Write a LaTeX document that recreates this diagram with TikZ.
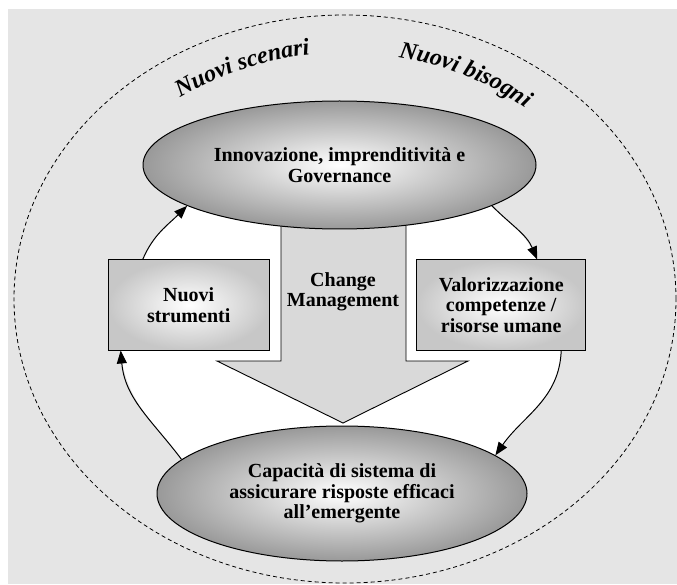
\documentclass[tikz,border=0pt]{standalone}
\usepackage{fontspec}
\setmainfont{Liberation Serif}
\usetikzlibrary{arrows.meta,shapes.geometric,decorations.text,backgrounds,calc}
\begin{document}
\begin{tikzpicture}[x=1pt,y=1pt,
  txt/.style={align=center,text=black,font=\bfseries\fontsize{20}{20.5}\selectfont},
  oval/.style={txt,ellipse,draw=black,line width=1pt,inner color=white,outer color=black!40,inner sep=0pt},
  sqbox/.style={txt,rectangle,draw=black,line width=1pt,inner color=white,outer color=black!22,inner sep=0pt},
  flow/.style={line width=1pt,draw=black,-{Triangle[length=13pt,width=10pt]}},
  lbl/.style={decorate,decoration={text along path,text align=center,
     text={|\bfseries\itshape\fontsize{24}{24}\selectfont|#1}}}]
\useasboundingbox (0,0) rectangle (677,-585);

% nodes
\node[oval,minimum width=393pt,minimum height=128pt] (inn) at (339.5,-165)
  {Innovazione, imprenditività e\\Governance};
\node[oval,minimum width=370pt,minimum height=135pt] (cap) at (342,-493.5)
  {Capacità di sistema di\\assicurare risposte efficaci\\all’emergente};
\node[sqbox,minimum width=161pt,minimum height=90pt] (ns) at (188.7,-305)
  {Nuovi\\strumenti};
\node[sqbox,minimum width=169pt,minimum height=90pt] (rv) at (501.2,-305)
  {Valorizzazione\\competenze /\\risorse umane};
\node[txt] (cm) at (343,-292) {Change\\Management};

% connector end points on the boxes
\coordinate (nsTop) at ($(ns.north west)+(35,0)$);
\coordinate (nsBot) at ($(ns.south west)+(13,0)$);
\coordinate (rvTop) at ($(rv.north east)+(-49,0)$);
\coordinate (rvBot) at ($(rv.south east)+(-25,0)$);

\begin{pgfonlayer}{background}
  \fill[black!10] (8,-9) rectangle (677,-584);
  \draw[line width=0.8pt,dash pattern=on 4pt off 3pt] (345,-299) ellipse [x radius=331,y radius=284];
  \fill[white] (cap.168) to[out=127,in=-85] (nsBot) -- (nsTop)
     to[out=67,in=225] (inn.195) -- (inn.-15)
     to[out=-45,in=113] (rvTop) -- (rvBot)
     to[out=-92,in=55] (cap.14) -- cycle;
  \filldraw[fill=black!15,draw=black,line width=0.9pt]
     (281,-200) -- (281,-361) -- (217,-361) -- (343,-423) -- (468,-361) -- (406,-361) -- (406,-200);
  \path[lbl=Nuovi scenari] ([shift={(345,-299)}]150:286 and 246) arc[start angle=150,end angle=74,x radius=286,y radius=246];
  \path[lbl=Nuovi bisogni] ([shift={(345,-299)}]102:286 and 246) arc[start angle=102,end angle=26,x radius=286,y radius=246];
\end{pgfonlayer}

% cycle connectors
\draw[flow] (nsTop) to[out=67,in=225] (inn.195);
\draw[flow] (inn.-15) to[out=-45,in=113] (rvTop);
\draw[flow] (rvBot) to[out=-92,in=55] (cap.14);
\draw[flow] (cap.168) to[out=127,in=-85] (nsBot);
\end{tikzpicture}
\end{document}
